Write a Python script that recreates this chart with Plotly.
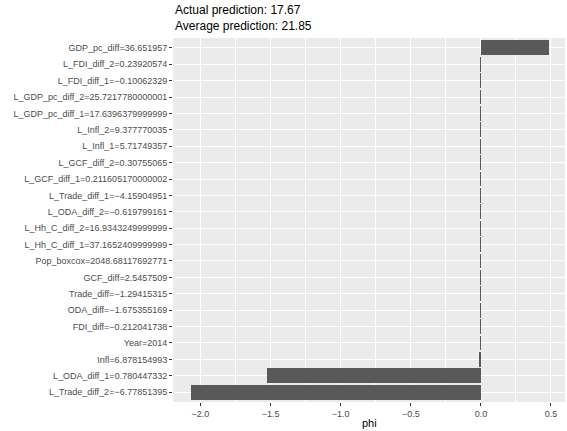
import plotly.graph_objects as go

features = [
    "GDP_pc_diff=36.651957",
    "L_FDI_diff_2=0.23920574",
    "L_FDI_diff_1=\u22120.10062329",
    "L_GDP_pc_diff_2=25.7217780000001",
    "L_GDP_pc_diff_1=17.6396379999999",
    "L_Infl_2=9.377770035",
    "L_Infl_1=5.71749357",
    "L_GCF_diff_2=0.30755065",
    "L_GCF_diff_1=0.211605170000002",
    "L_Trade_diff_1=\u22124.15904951",
    "L_ODA_diff_2=\u22120.619799161",
    "L_Hh_C_diff_2=16.9343249999999",
    "L_Hh_C_diff_1=37.1652409999999",
    "Pop_boxcox=2048.68117692771",
    "GCF_diff=2.5457509",
    "Trade_diff=\u22121.29415315",
    "ODA_diff=\u22121.675355169",
    "FDI_diff=\u22120.212041738",
    "Year=2014",
    "Infl=6.878154993",
    "L_ODA_diff_1=0.780447332",
    "L_Trade_diff_2=\u22126.77851395",
]

phi = [0.484, -0.006, -0.006, -0.005, -0.005, -0.005, -0.005, -0.005, -0.005,
       -0.005, -0.005, -0.005, -0.005, -0.005, -0.005, -0.005, -0.005, -0.005,
       -0.005, -0.012, -1.523, -2.068]

title_lines = ["Actual prediction: 17.67", "Average prediction: 21.85"]
x_ticks = [-2.0, -1.5, -1.0, -0.5, 0.0, 0.5]

n = len(features)
fig = go.Figure(go.Bar(
    x=phi, y=features, orientation="h", width=0.9,
    marker=dict(color="#595959", line=dict(width=0)),
))

font = "Liberation Sans, Arial, Helvetica, sans-serif"
fig.update_layout(
    width=567, height=431,
    margin=dict(l=173, r=2, t=38, b=29),
    paper_bgcolor="white", plot_bgcolor="#EBEBEB",
    font=dict(family=font, size=9, color="#4D4D4D"),
    showlegend=False, bargap=0,
)
fig.update_xaxes(
    range=[-2.196, 0.60], tickvals=x_ticks, tickformat=".1f",
    showgrid=True, gridcolor="white", gridwidth=1.1,
    minor=dict(dtick=0.25, tick0=0, showgrid=True, gridcolor="white", gridwidth=0.5),
    ticks="outside", ticklen=3, tickcolor="#333333", tickwidth=1,
    zeroline=False, showline=False, automargin=False,
    tickfont=dict(size=9, color="#4D4D4D"),
)
fig.update_yaxes(
    type="category", categoryorder="array", categoryarray=features,
    range=[n - 1 + 0.6, -0.6],
    showgrid=True, gridcolor="white", gridwidth=1.1,
    ticks="outside", ticklen=3, tickcolor="#333333", tickwidth=1,
    zeroline=False, showline=False, automargin=False,
    tickfont=dict(size=9, color="#4D4D4D"),
)
fig.add_annotation(
    text="<br>".join(title_lines), xref="paper", yref="paper", x=0, y=1,
    xanchor="left", yanchor="bottom", yshift=3, showarrow=False, align="left",
    font=dict(family=font, size=12, color="black"),
)
fig.add_annotation(
    text="phi", xref="paper", yref="paper", x=0.5, y=0,
    xanchor="center", yanchor="middle", yshift=-21, showarrow=False,
    font=dict(family=font, size=11, color="black"),
)
fig.write_html(
    "out.html",
    config={"displayModeBar": False},
    post_script="document.body.style.margin='0px';document.body.style.overflow='hidden';",
)
